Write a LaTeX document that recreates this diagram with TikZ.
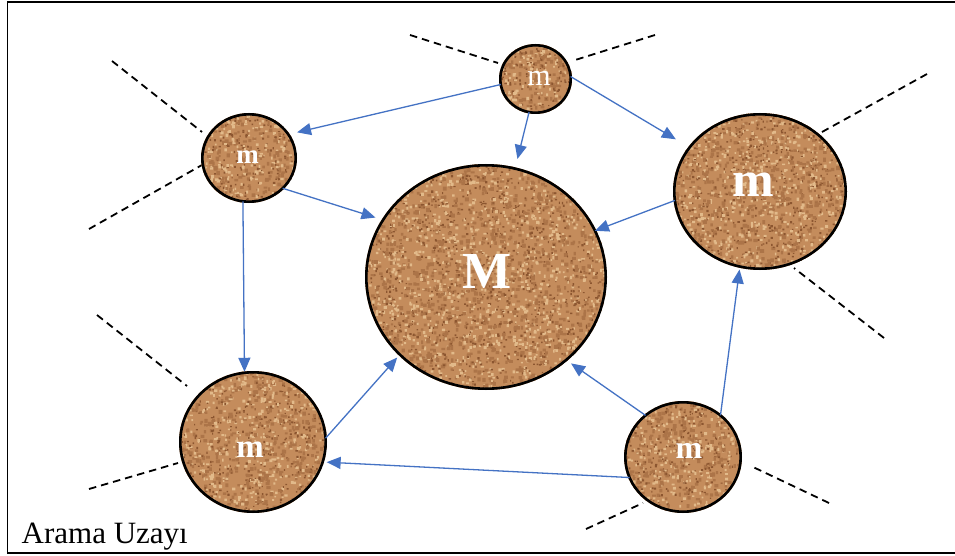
\documentclass[tikz,border=0pt]{standalone}
\usepackage{fontspec}
\setmainfont{Liberation Serif}
\usetikzlibrary{shapes.geometric,arrows.meta}
\definecolor{sandbase}{RGB}{196,140,92}
\definecolor{sanddark}{RGB}{140,86,48}
\definecolor{sandlight}{RGB}{226,186,138}
\definecolor{sandmid}{RGB}{172,116,72}
\definecolor{arrblue}{RGB}{68,114,196}
\newcommand{\sandfill}[5]{%
  \begin{scope}
    \clip (#1,#2) ellipse [x radius=#3, y radius=#4];
    \fill[sandbase] (#1,#2) ellipse [x radius=#3, y radius=#4];
    \foreach \c in {1,...,#5} {
      \fill[sandmid] \foreach \k in {1,...,40} { ({#1+#3*rand},{#2+#4*rand}) rectangle ++({2.0+2.2*rnd},{2.0+2.2*rnd}) };
      \fill[sandlight] \foreach \k in {1,...,40} { ({#1+#3*rand},{#2+#4*rand}) rectangle ++({1.5+1.8*rnd},{1.5+1.8*rnd}) };
      \fill[sanddark] \foreach \k in {1,...,40} { ({#1+#3*rand},{#2+#4*rand}) rectangle ++({1.0+1.4*rnd},{1.0+1.4*rnd}) };
    }
  \end{scope}}
\tikzset{
  ball/.style={ellipse, draw=black, line width=2.6pt, inner sep=0pt, outer sep=0pt},
  balltext/.style={text=white, inner sep=0pt, font=\bfseries},
  arr/.style={draw=arrblue, line width=1.3pt, -{Triangle[length=14pt,width=12pt]}},
  dashline/.style={draw=black, line width=1.8pt, dash pattern=on 7.5pt off 5pt},
  frame/.style={draw=black, line width=1.6pt}
}
\begin{document}
\begin{tikzpicture}[x=1pt,y=1pt]
\pgfmathsetseed{4242}
\useasboundingbox (0,0) rectangle (955,555);
\fill[white] (0,0) rectangle (955,555);
\draw[frame] (7.5,2.3) rectangle (962,553);

% dashed lines
\draw[dashline] (410,520) -- (498,492);
\draw[dashline] (655,520) -- (572,494);
\draw[dashline] (112,494) -- (202,423);
\draw[dashline] (89,326) -- (202,390);
\draw[dashline] (927,481) -- (822,423);
\draw[dashline] (884,217) -- (794,287);
\draw[dashline] (97,240) -- (187,169);
\draw[dashline] (89,66) -- (178,92);
\draw[dashline] (586,26) -- (643,52);
\draw[dashline] (829,52) -- (753,88);

% sand textures
\sandfill{535.5}{476}{36.5}{35}{3}
\sandfill{249}{397}{48}{45}{5}
\sandfill{760}{363.5}{87}{78.5}{15}
\sandfill{253}{113}{74}{71}{11}
\sandfill{683}{98}{59}{56}{7}
\sandfill{486}{278}{121}{113}{29}

% balls
\node[ball, minimum width=70.4, minimum height=67.4] (T) at (535.5,476) {};
\node[ball, minimum width=93.4, minimum height=87.4] (L) at (249,397) {};
\node[ball, minimum width=171.4, minimum height=154.4] (R) at (760,363.5) {};
\node[ball, minimum width=145.4, minimum height=139.4] (BL) at (253,113) {};
\node[ball, minimum width=115.4, minimum height=109.4] (BR) at (683,98) {};
\node[ball, minimum width=239.4, minimum height=223.4] (M) at (486,278) {};

% labels
\node[balltext, font=\fontsize{30}{30}\selectfont] (Tt) at (539,477) {m};
\node[balltext, font=\fontsize{27}{27}\selectfont\bfseries] (Lt) at (247.5,398) {m};
\node[balltext, font=\fontsize{50}{50}\selectfont\bfseries] (Rt) at (753,370.5) {m};
\node[balltext, font=\fontsize{33}{33}\selectfont\bfseries] (BLt) at (250,105) {m};
\node[balltext, font=\fontsize{32}{32}\selectfont\bfseries] (BRt) at (689,104.5) {m};
\node[balltext, font=\fontsize{52}{52}\selectfont\bfseries] (Mt) at (487.5,284) {M};

% arrows
\draw[arr, shorten >=9pt] (T.189.3) -- (L.31);
\draw[arr, shorten >=10pt] (T.259.5) -- (M.75.5);
\draw[arr, shorten >=16pt] (T.4.7) -- (R.148.6);
\draw[arr, shorten >=8pt] (L.318) -- (M.151.2);
\draw[arr, shorten >=1pt] (L.262.4) -- (BL.97.8);
\draw[arr] (R.186.9) -- (M.23.8);
\draw[arr, shorten >=4pt] (BL.3.9) -- (M.222.7);
\draw[arr, shorten >=6pt] (BR.132.9) -- (M.314.3);
\draw[arr, shorten >=3pt] (BR.48.4) -- (R.255.9);
\draw[arr, shorten >=4pt] (BR.201.6) -- (BL.344.4);

% caption
\node[anchor=base west, inner sep=0pt, font=\fontsize{31}{31}\selectfont] (cap) at (21.5,11.7) {Arama Uzayı};
\end{tikzpicture}
\end{document}
